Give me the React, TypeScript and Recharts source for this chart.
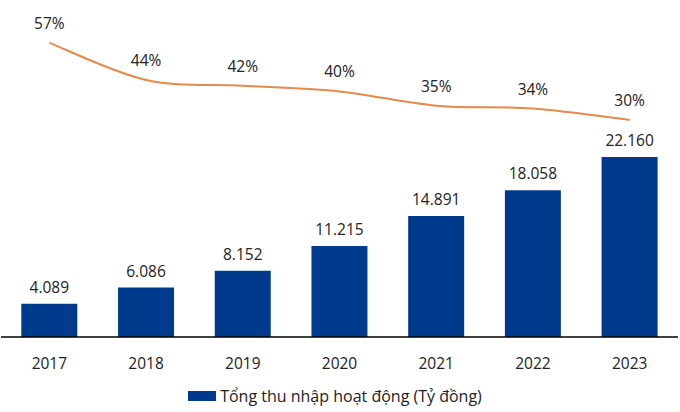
import { ComposedChart, Bar, Line, XAxis, YAxis, LabelList, Legend } from "recharts";

const years = ["2017", "2018", "2019", "2020", "2021", "2022", "2023"];
const income = [4089, 6086, 8152, 11215, 14891, 18058, 22160];
const ratio = [57, 44, 42, 40, 35, 34, 30];

const data = years.map((year, i) => ({ year, income: income[i], ratio: ratio[i] }));

const FONT = "'Open Sans', 'Noto Sans', sans-serif";
const BAR = "#003A8C";
const LINE = "#E58A4C";
const TEXT = "#222";

const fmt = (v: number) => v.toLocaleString("de-DE");

// Catmull-Rom style smoothing, like the spreadsheet "smoothed line"
const smoothCurve = (context: any) => {
  let pts: [number, number][] = [];
  return {
    areaStart() {},
    areaEnd() {},
    lineStart() {
      pts = [];
    },
    point(x: number, y: number) {
      pts.push([+x, +y]);
    },
    lineEnd() {
      if (!pts.length) return;
      context.moveTo(pts[0][0], pts[0][1]);
      for (let i = 0; i < pts.length - 1; i++) {
        const p0 = pts[i - 1] || pts[i];
        const p1 = pts[i];
        const p2 = pts[i + 1];
        const p3 = pts[i + 2] || p2;
        context.bezierCurveTo(
          p1[0] + (p2[0] - p0[0]) / 6,
          p1[1] + (p2[1] - p0[1]) / 6,
          p2[0] - (p3[0] - p1[0]) / 6,
          p2[1] - (p3[1] - p1[1]) / 6,
          p2[0],
          p2[1]
        );
      }
    },
  };
};

function LegendBox() {
  return (
    <div style={{ display: "flex", alignItems: "center", justifyContent: "center", fontFamily: FONT, fontSize: 16, color: TEXT, lineHeight: "20px", paddingRight: 9 }}>
      <span style={{ display: "inline-block", width: 28, height: 10, background: BAR, marginRight: 4 }} />
      <span>Tổng thu nhập hoạt động (Tỷ đồng)</span>
    </div>
  );
}

export default function App() {
  return (
    <div style={{ position: "absolute", left: 0, top: 0, width: 680, height: 412, background: "#fff" }}>
      <ComposedChart width={680} height={412} data={data} margin={{ top: 10, right: 2, left: 1, bottom: 25 }} barCategoryGap="21%">
        <XAxis
          dataKey="year"
          height={30}
          axisLine={{ stroke: "#000", strokeWidth: 1.5 }}
          tickLine={false}
          tickMargin={15}
          tick={{ fill: TEXT, fontSize: 15.5, fontFamily: FONT }}
        />
        <YAxis yAxisId="left" hide width={0} domain={[0, 40250]} />
        <YAxis yAxisId="right" hide width={0} orientation="right" domain={[-46, 68.5]} />
        <Legend verticalAlign="bottom" height={20} wrapperStyle={{ bottom: 6 }} content={() => <LegendBox />} />
        <Bar yAxisId="left" dataKey="income" fill={BAR} isAnimationActive={false}>
          <LabelList dataKey="income" position="top" offset={11} formatter={(v: any) => fmt(Number(v))} style={{ fill: TEXT, fontSize: 15.5, fontFamily: FONT }} />
        </Bar>
        <Line yAxisId="right" type={smoothCurve as any} dataKey="ratio" stroke={LINE} strokeWidth={2} dot={false} isAnimationActive={false}>
          <LabelList dataKey="ratio" position="top" offset={14} formatter={(v: any) => `${v}%`} style={{ fill: TEXT, fontSize: 15.5, fontFamily: FONT }} />
        </Line>
      </ComposedChart>
    </div>
  );
}
